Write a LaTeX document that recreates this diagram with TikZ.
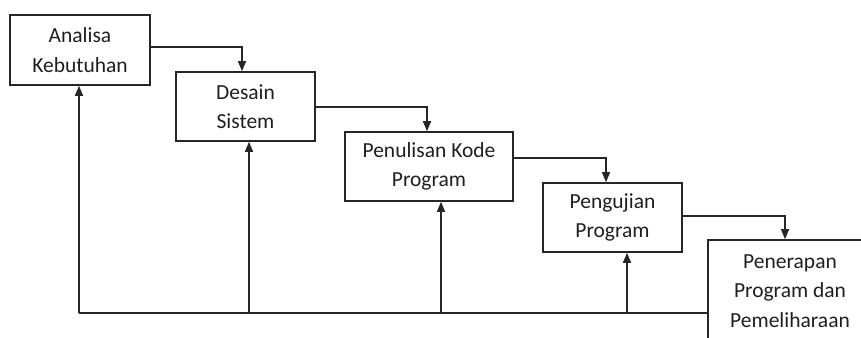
\documentclass[tikz,border=0pt]{standalone}
\usepackage{fontspec}
\setmainfont{Carlito}
\usetikzlibrary{arrows.meta}
\begin{document}
\begin{tikzpicture}[x=1pt,y=-1pt,
  box/.style={draw=black!85, line width=1.6pt, fill=white, align=center, inner sep=0pt,
    text=black!88, font=\fontsize{21.5}{29.5}\selectfont},
  arr/.style={draw=black!85, line width=1.4pt, -{Triangle[length=10pt,width=8pt]}},
  ln/.style={draw=black!85, line width=1.4pt}]
\clip (0,0) rectangle (861,337);
\fill[white] (0,0) rectangle (861,337);
\node[box, minimum width=140pt, minimum height=70pt] (b1) at (80,50) {Analisa\\Kebutuhan};
\node[box, minimum width=139pt, minimum height=69pt] (b2) at (245.5,106.5) {Desain\\Sistem};
\node[box, minimum width=168pt, minimum height=69pt] (b3) at (429,166.5) {Penulisan Kode\\Program};
\node[box, minimum width=139pt, minimum height=69pt] (b4) at (612.5,217.5) {Pengujian\\Program};
\node[box, minimum width=164pt, minimum height=102pt] (b5) at (790,291) {Penerapan\\Program dan\\Pemeliharaan};
\coordinate (fb) at (0,313);
% forward arrows
\draw[arr] ([yshift=3pt]b1.east) -| ([xshift=-3.5pt]b2.north);
\draw[arr] ([yshift=-0.5pt]b2.east) -| ([xshift=-2pt]b3.north);
\draw[arr] ([yshift=8.5pt]b3.east) -| ([xshift=-6.5pt]b4.north);
\draw[arr] ([yshift=1.5pt]b4.east) -| ([xshift=-5pt]b5.north);
% feedback
\draw[ln] (b5.west |- fb) -- ([xshift=-1pt]b1.south |- fb);
\draw[arr] ([xshift=-1pt]b1.south |- fb) -- ([xshift=-1pt]b1.south);
\draw[arr] ([xshift=3.5pt]b2.south |- fb) -- ([xshift=3.5pt]b2.south);
\draw[arr] ([xshift=12pt]b3.south |- fb) -- ([xshift=12pt]b3.south);
\draw[arr] ([xshift=14.5pt]b4.south |- fb) -- ([xshift=14.5pt]b4.south);
\end{tikzpicture}
\end{document}
